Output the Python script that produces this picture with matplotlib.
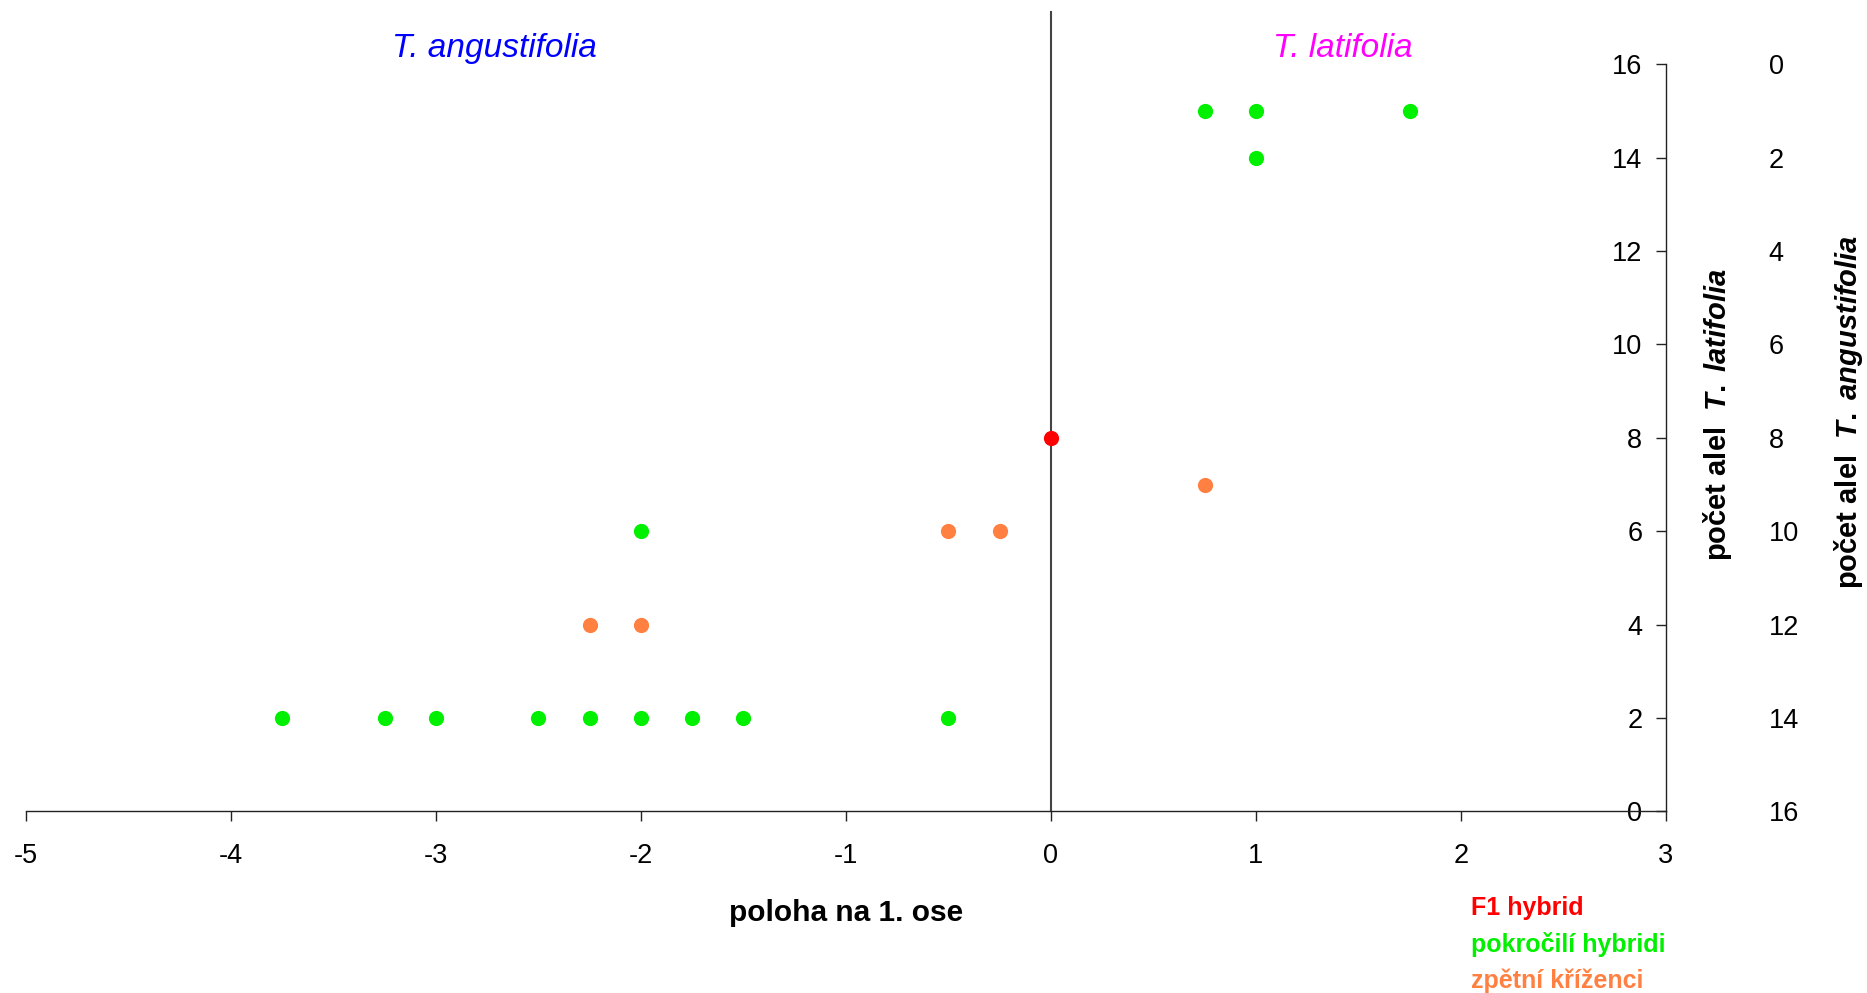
import matplotlib.pyplot as plt

plt.rcParams['font.family'] = ['Liberation Sans', 'DejaVu Sans']
plt.rcParams['mathtext.fontset'] = 'custom'
plt.rcParams['mathtext.it'] = 'Liberation Sans:italic:bold'
plt.rcParams['mathtext.rm'] = 'Liberation Sans:bold'

# data
pokrocili_x = [0.75, 1.0, 1.75, 1.0, -2.0, -3.75, -3.25, -3.0, -2.5, -2.25, -2.0, -1.75, -1.5, -0.5]
pokrocili_y = [15, 15, 15, 14, 6, 2, 2, 2, 2, 2, 2, 2, 2, 2]
zpetni_x = [0.75, -0.5, -0.25, -2.25, -2.0]
zpetni_y = [7, 6, 6, 4, 4]
f1_x = [0.0]
f1_y = [8]

x_ticks = [-5, -4, -3, -2, -1, 0, 1, 2, 3]
y_ticks = [0, 2, 4, 6, 8, 10, 12, 14, 16]

RED = '#ff0000'
GREEN = '#00f000'
ORANGE = '#ff8040'

fig = plt.figure(figsize=(18.67, 9.93), dpi=100)
ax = fig.add_axes([0.0139, 0.1828, 0.8784, 0.7525])

ax.scatter(pokrocili_x, pokrocili_y, s=120, color=GREEN, zorder=3, linewidths=0)
ax.scatter(zpetni_x, zpetni_y, s=120, color=ORANGE, zorder=3, linewidths=0)
ax.scatter(f1_x, f1_y, s=120, color=RED, zorder=4, linewidths=0)

# vertical line through 0, runs above the plot top
ax.plot([0, 0], [0, 17.12], color='#444444', lw=1.5, clip_on=False, zorder=2)

ax.set_xlim(-5, 3)
ax.set_ylim(0, 16)
ax.set_xticks(x_ticks)
ax.set_yticks(y_ticks)
ax.set_xticklabels([str(v) for v in x_ticks])

for s in ['top', 'right']:
    ax.spines[s].set_visible(False)
ax.spines['left'].set_position(('data', 3))
ax.spines['left'].set_color('#222222')
ax.spines['bottom'].set_color('#222222')
ax.spines['left'].set_linewidth(1.0)
ax.spines['bottom'].set_linewidth(1.0)
ax.tick_params(axis='x', direction='out', length=7, width=1, labelsize=19.5, pad=15.5, colors='#222222', labelcolor='black')
ax.tick_params(axis='y', direction='out', length=7, width=1, labelsize=19.5, pad=10, colors='#222222', labelcolor='black')

ax.set_xlabel('poloha na 1. ose', fontsize=21.5, fontweight='bold', labelpad=22)

# second scale on the right, counted the other way round
ax2 = ax.twinx()
ax2.set_ylim(15.99, 0.07)
ax2.set_yticks(y_ticks)
for s in ax2.spines.values():
    s.set_visible(False)
ax2.tick_params(axis='y', length=0, labelsize=19.5, pad=74)

ax.text(0.2854, 1.0205, 'T. angustifolia', transform=ax.transAxes, ha='center', va='center',
        fontsize=24, style='italic', color='#0000ff')
ax.text(0.803, 1.0205, 'T. latifolia', transform=ax.transAxes, ha='center', va='center',
        fontsize=24, style='italic', color='#ff00ff')

ax.text(1.0317, 0.5306, r'počet alel  $T.$ $latifolia$', transform=ax.transAxes, rotation=90,
        ha='center', va='center', fontsize=21, fontweight='bold')
ax.text(1.1116, 0.5347, r'počet alel  $T.$ $angustifolia$', transform=ax.transAxes, rotation=90,
        ha='center', va='center', fontsize=21, fontweight='bold')

fig.text(0.7879, 0.0785, 'F1 hybrid', color=RED, fontsize=18, fontweight='bold', va='baseline')
fig.text(0.7879, 0.0413, 'pokročilí hybridi', color=GREEN, fontsize=18, fontweight='bold', va='baseline')
fig.text(0.7879, 0.005, 'zpětní kříženci', color=ORANGE, fontsize=18, fontweight='bold', va='baseline')

plt.savefig('out.png', dpi=100)
plt.close()
